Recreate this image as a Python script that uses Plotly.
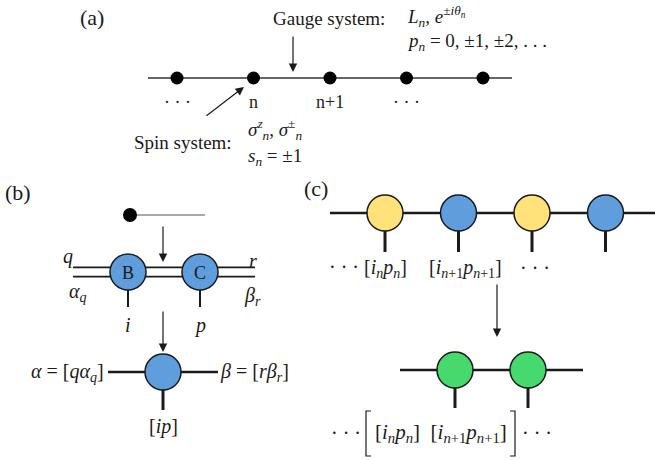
import plotly.graph_objects as go

W, H = 655, 460
SERIF = "Liberation Serif"
INK = "#1a1a1a"

# ---- diagram content -------------------------------------------------------
# (a) one-dimensional lattice: spins on sites, gauge fields on links
lattice_sites = 5
site_labels = ["· · ·", "n", "n+1", "· · ·"]
gauge_lines = ["<i>L<sub>n</sub></i>, <i>e</i><sup>±<i>iθ<sub>n</sub></i></sup>",
               "<i>p<sub>n</sub></i> = 0, ±1, ±2, . . ."]
spin_lines = ["<i>σ</i><sup><i>z</i></sup><sub><i>n</i></sub>, <i>σ</i><sup>±</sup><sub><i>n</i></sub>",
              "<i>s<sub>n</sub></i> = ±1"]

# (b) contraction of the site (B) and link (C) tensors
pair_tensors = ["B", "C"]
pair_legs_top = ["<i>q</i>", "<i>r</i>"]
pair_legs_bottom = ["<i>α<sub>q</sub></i>", "<i>β<sub>r</sub></i>"]
pair_physical = ["<i>i</i>", "<i>p</i>"]
merged_left = "<i>α</i> = [<i>qα<sub>q</sub></i>]"
merged_right = "<i>β</i> = [<i>rβ<sub>r</sub></i>]"
merged_physical = "[<i>ip</i>]"

# (c) matrix product chain before and after merging neighbours
mps_chain = ["spin", "gauge", "spin", "gauge"]
merged_chain = ["merged", "merged"]
tensor_colors = {"spin": "#ffe27a", "gauge": "#5f9ddc", "merged": "#48d96e"}
mps_labels = ["· · · [<i>i<sub>n</sub>p<sub>n</sub></i>]",
              "[<i>i</i><sub><i>n</i>+1</sub><i>p</i><sub><i>n</i>+1</sub>]", "· · ·"]
merged_label = "[<i>i<sub>n</sub>p<sub>n</sub></i>]  [<i>i</i><sub><i>n</i>+1</sub><i>p</i><sub><i>n</i>+1</sub>]"

# ---- helpers ---------------------------------------------------------------
shapes, annotations, traces = [], [], []


def line(x0, y0, x1, y1, width=2.0, color=INK):
    shapes.append(dict(type="line", x0=x0, y0=y0, x1=x1, y1=y1, layer="below",
                       line=dict(color=color, width=width)))


def text(x, y, s, size=19, xanchor="center", yanchor="middle", color=INK):
    annotations.append(dict(x=x, y=y, text=s, showarrow=False, xanchor=xanchor,
                            yanchor=yanchor, font=dict(family=SERIF, size=size, color=color)))


def arrow(x0, y0, x1, y1):
    annotations.append(dict(x=x1, y=y1, ax=x0, ay=y0, xref="x", yref="y", axref="x", ayref="y",
                            text="", showarrow=True, arrowhead=2, arrowsize=1.4,
                            arrowwidth=1.2, arrowcolor=INK))


def nodes(xs, ys, colors, size=36):
    traces.append(go.Scatter(x=xs, y=ys, mode="markers", hoverinfo="skip",
                             marker=dict(size=size, color=colors,
                                         line=dict(color=INK, width=1.5))))


# ---- panel (a) -------------------------------------------------------------
text(92, 17, "(a)", size=22)
a_y, a_x0, a_dx = 78, 177, 76.5
line(148, a_y, 512, a_y, width=1.4, color="#333")
site_x = [a_x0 + k * a_dx for k in range(lattice_sites)]
traces.append(go.Scatter(x=site_x, y=[a_y] * lattice_sites, mode="markers", hoverinfo="skip",
                         marker=dict(size=13, color="black")))
for k, lab in enumerate(site_labels):
    text(site_x[k], 102, lab, size=18)
text(329, 18, "Gauge system:", size=19)
text(405, 16, gauge_lines[0], size=19, xanchor="left")
text(405, 42, gauge_lines[1], size=19, xanchor="left")
arrow(293, 35, 293, 72)
text(183, 142, "Spin system:", size=19)
text(246, 129, spin_lines[0], size=19, xanchor="left")
text(246, 157, spin_lines[1], size=19, xanchor="left")
arrow(205, 117, 244, 87)

# ---- panel (b) -------------------------------------------------------------
text(18, 192, "(b)", size=22)
line(130, 215, 205, 215, width=1.2, color="#555")
traces.append(go.Scatter(x=[130], y=[215], mode="markers", hoverinfo="skip",
                         marker=dict(size=14, color="black")))
arrow(163, 225, 163, 262)

b_y, b_xs, gap = 272, [128, 200], 4.7
for dy in (-gap, gap):
    line(73, b_y + dy, 255, b_y + dy, width=1.8)
for k, x in enumerate(b_xs):
    line(x, b_y, x, 307, width=2.0)
    text(x, b_y + 1, pair_tensors[k], size=18)
    text(x, 325, pair_physical[k], size=20)
nodes(b_xs, [b_y, b_y], [tensor_colors["gauge"]] * 2)
text(68, 256, pair_legs_top[0], size=20)
text(78, 292, pair_legs_bottom[0], size=20)
text(253, 261, pair_legs_top[1], size=20)
text(252, 296, pair_legs_bottom[1], size=20)

arrow(163, 310, 163, 352)
m_y = 372
line(108, m_y, 218, m_y, width=2.6)
line(163, m_y, 163, 410, width=3.0)
nodes([163], [m_y], [tensor_colors["gauge"]])
text(106, m_y, merged_left, size=20, xanchor="right")
text(218, m_y, merged_right, size=20, xanchor="left")
text(163, 426, merged_physical, size=20)

# ---- panel (c) -------------------------------------------------------------
text(316, 188, "(c)", size=22)
c_y, c_x0, c_dx = 213, 385, 73.5
line(330, c_y, 655, c_y, width=2.6)
c_xs = [c_x0 + k * c_dx for k in range(len(mps_chain))]
for x in c_xs:
    line(x, c_y, x, 252, width=3.0)
nodes(c_xs, [c_y] * len(mps_chain), [tensor_colors[t] for t in mps_chain])
text(368, 268, mps_labels[0], size=20)
text(465, 268, mps_labels[1], size=20)
text(535, 268, mps_labels[2], size=20)

arrow(497, 283, 497, 337)
d_y, d_x0, d_dx = 370, 455, 73
line(400, d_y, 583, d_y, width=2.6)
d_xs = [d_x0 + k * d_dx for k in range(len(merged_chain))]
for x in d_xs:
    line(x, d_y, x, 408, width=3.0)
nodes(d_xs, [d_y] * len(merged_chain), [tensor_colors[t] for t in merged_chain])
text(346, 433, "· · ·", size=20)
text(441, 433, merged_label, size=21)
text(537, 433, "· · ·", size=20)
for xb, tick in ((366, 5), (515, -5)):
    shapes.append(dict(type="path", layer="below",
                       path=f"M {xb + tick} 411 L {xb} 411 L {xb} 456 L {xb + tick} 456",
                       line=dict(color=INK, width=1.2)))

# ---- figure ----------------------------------------------------------------
fig = go.Figure(traces)
fig.update_layout(
    width=W, height=H, autosize=False, showlegend=False,
    margin=dict(l=0, r=0, t=0, b=0, pad=0),
    paper_bgcolor="white", plot_bgcolor="white",
    xaxis=dict(range=[0, W], visible=False, fixedrange=True),
    yaxis=dict(range=[H, 0], visible=False, fixedrange=True),
    shapes=shapes, annotations=annotations,
)
fig.write_html("out.html", config={"displayModeBar": False})
